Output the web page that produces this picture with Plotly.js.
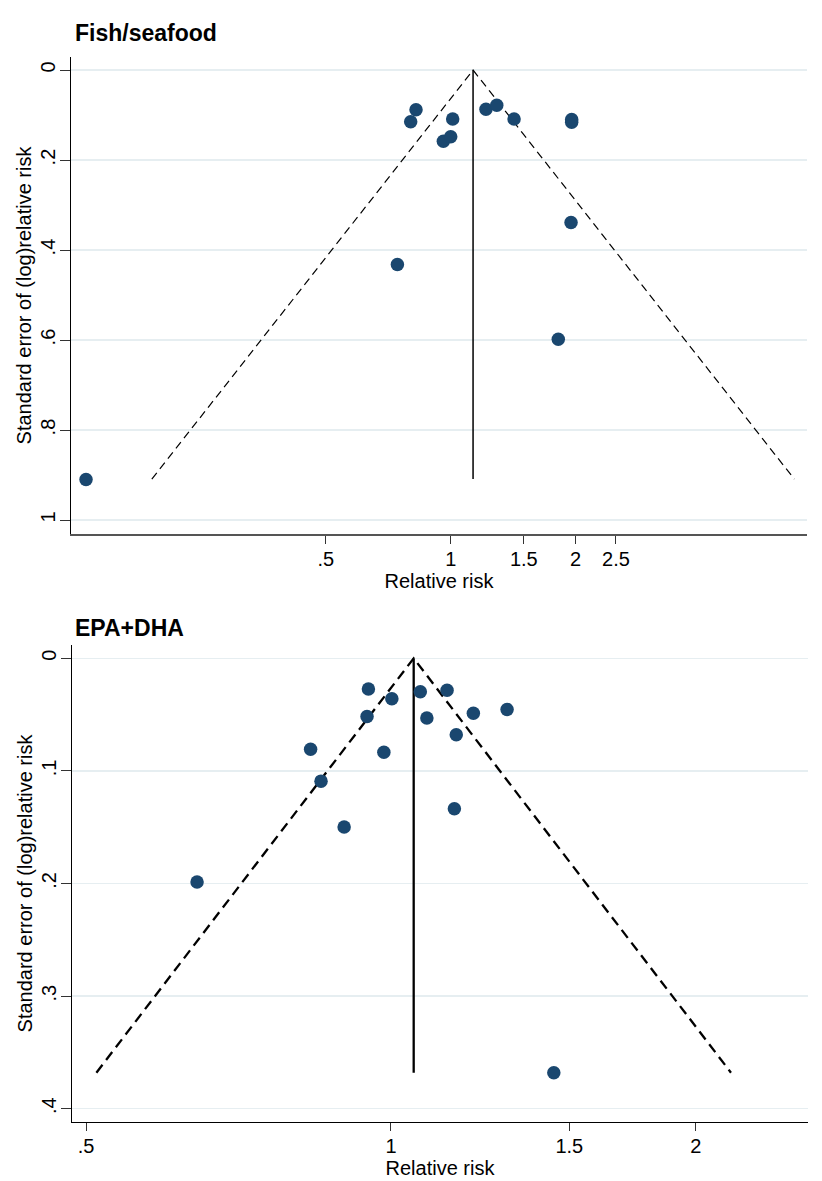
<!DOCTYPE html>
<html>
<head>
<meta charset="utf-8">
<script src="https://cdn.plot.ly/plotly-3.0.1.min.js"></script>
<style>html,body{margin:0;padding:0;background:#fff;}#chart{width:822px;height:1181px;}</style>
</head>
<body>
<div id="chart"></div>
<script>
// Panel 1: Fish/seafood
const fishRR = [0.825, 0.801, 1.011, 0.960, 1.000, 1.216, 1.291, 1.421, 1.956, 1.956, 1.949, 0.744, 1.816, 0.1323];
const fishSE = [0.088, 0.115, 0.109, 0.158, 0.148, 0.087, 0.078, 0.109, 0.110, 0.116, 0.339, 0.432, 0.598, 0.910];
const fishPooled = 1.132;
const fishMaxSE = 0.909;

// Panel 2: EPA+DHA
const epaRR = [0.950, 1.002, 0.947, 0.833, 0.984, 0.853, 0.899, 0.6435, 1.069, 1.136, 1.085, 1.206, 1.302, 1.160, 1.155, 1.448];
const epaSE = [0.0273, 0.0359, 0.0517, 0.0807, 0.0835, 0.1091, 0.1499, 0.1987, 0.0297, 0.0284, 0.0531, 0.0489, 0.0454, 0.0679, 0.1336, 0.3680];
const epaPooled = 1.053;
const epaMaxSE = 0.368;

// Tick labels
const fishXTicks = [0.5, 1, 1.5, 2, 2.5];
const fishXTickText = ['.5', '1', '1.5', '2', '2.5'];
const fishYTicks = [0, 0.2, 0.4, 0.6, 0.8, 1];
const fishYTickText = ['0', '.2', '.4', '.6', '.8', '1'];
const epaXTicks = [0.5, 1, 1.5, 2];
const epaXTickText = ['.5', '1', '1.5', '2'];
const epaYTicks = [0, 0.1, 0.2, 0.3, 0.4];
const epaYTickText = ['0', '.1', '.2', '.3', '.4'];

const panelTitles = ['Fish/seafood', 'EPA+DHA'];
const xTitle = 'Relative risk';
const yTitle = 'Standard error of (log)relative risk';

const Z = 1.96;
function funnel(pooled, maxSE) {
  const c = Math.log(pooled);
  return {
    x: [Math.exp(c - Z * maxSE), pooled, Math.exp(c + Z * maxSE)],
    y: [maxSE, 0, maxSE]
  };
}

const navy = '#1a476f';
const FONT = 'Arial, "Liberation Sans", Helvetica, sans-serif';

const f1 = funnel(fishPooled, fishMaxSE);
const f2 = funnel(epaPooled, epaMaxSE);

const traces = [
  {x: f1.x, y: f1.y, xaxis: 'x', yaxis: 'y', mode: 'lines', type: 'scatter',
   line: {color: '#000', width: 1.2, dash: '8px,5px'}, hoverinfo: 'skip', showlegend: false},
  {x: [fishPooled, fishPooled], y: [0, fishMaxSE], xaxis: 'x', yaxis: 'y', mode: 'lines', type: 'scatter',
   line: {color: '#000', width: 1.5}, hoverinfo: 'skip', showlegend: false},
  {x: fishRR, y: fishSE, xaxis: 'x', yaxis: 'y', mode: 'markers', type: 'scatter',
   marker: {color: navy, size: 13.5}, showlegend: false},
  {x: f2.x, y: f2.y, xaxis: 'x2', yaxis: 'y2', mode: 'lines', type: 'scatter',
   line: {color: '#000', width: 2.3, dash: '10px,6px'}, hoverinfo: 'skip', showlegend: false},
  {x: [epaPooled, epaPooled], y: [0, epaMaxSE], xaxis: 'x2', yaxis: 'y2', mode: 'lines', type: 'scatter',
   line: {color: '#000', width: 2.3}, hoverinfo: 'skip', showlegend: false},
  {x: epaRR, y: epaSE, xaxis: 'x2', yaxis: 'y2', mode: 'markers', type: 'scatter',
   marker: {color: navy, size: 13.5}, showlegend: false}
];

const gridColor = '#e6eef1';
function xAxis(range, ticks, text, domain, anchor, lineColor, lineWidth) {
  return {
    type: 'log', range: range, domain: domain, anchor: anchor,
    tickmode: 'array', tickvals: ticks, ticktext: text,
    ticks: 'outside', ticklen: 8, tickwidth: 1, tickcolor: '#333',
    ticklabelstandoff: -2,
    showline: true, linecolor: lineColor, linewidth: lineWidth, mirror: false,
    showgrid: false, zeroline: false,
    tickfont: {family: FONT, size: 20, color: '#000'},
    title: {text: xTitle, font: {family: FONT, size: 20, color: '#000'}, standoff: 0},
    automargin: false
  };
}
function yAxis(range, ticks, text, domain, anchor) {
  return {
    range: range, domain: domain, anchor: anchor,
    tickmode: 'array', tickvals: ticks, ticktext: text, tickangle: -90,
    ticks: 'outside', ticklen: 10, tickwidth: 1, tickcolor: '#333',
    ticklabelstandoff: -3,
    showline: true, linecolor: '#000', linewidth: 1, mirror: false,
    showgrid: true, gridcolor: gridColor, gridwidth: 1.5, zeroline: false,
    tickfont: {family: FONT, size: 20, color: '#000'},
    title: {text: yTitle, font: {family: FONT, size: 20, color: '#000'}, standoff: 0},
    automargin: false
  };
}

const layout = {
  width: 822, height: 1181,
  margin: {l: 0, r: 0, t: 0, b: 0},
  paper_bgcolor: '#fff', plot_bgcolor: '#fff',
  showlegend: false,
  font: {family: FONT, size: 20, color: '#000'},
  xaxis: xAxis([-0.9146, 0.8582], fishXTicks, fishXTickText, [71/822, 807/822], 'y', '#555', 2),
  yaxis: yAxis([1.031, -0.029], fishYTicks, fishYTickText, [1 - 534/1181, 1 - 57/1181], 'x'),
  xaxis2: xAxis([-0.3149, 0.4117], epaXTicks, epaXTickText, [72/822, 808/822], 'y2', '#000', 1.2),
  yaxis2: yAxis([0.4118, -0.0118], epaYTicks, epaYTickText, [1 - 1122/1181, 1 - 645/1181], 'x2'),
  annotations: [
    {text: '<b>' + panelTitles[0] + '</b>', xref: 'paper', yref: 'paper', x: 73/822, y: 1 - 33/1181,
     xanchor: 'left', yanchor: 'middle', showarrow: false, font: {family: FONT, size: 23, color: '#000'}},
    {text: '<b>' + panelTitles[1] + '</b>', xref: 'paper', yref: 'paper', x: 73/822, y: 1 - 628/1181,
     xanchor: 'left', yanchor: 'middle', showarrow: false, font: {family: FONT, size: 23, color: '#000'}}
  ]
};

Plotly.newPlot('chart', traces, layout, {staticPlot: true, displayModeBar: false});
</script>
</body>
</html>
